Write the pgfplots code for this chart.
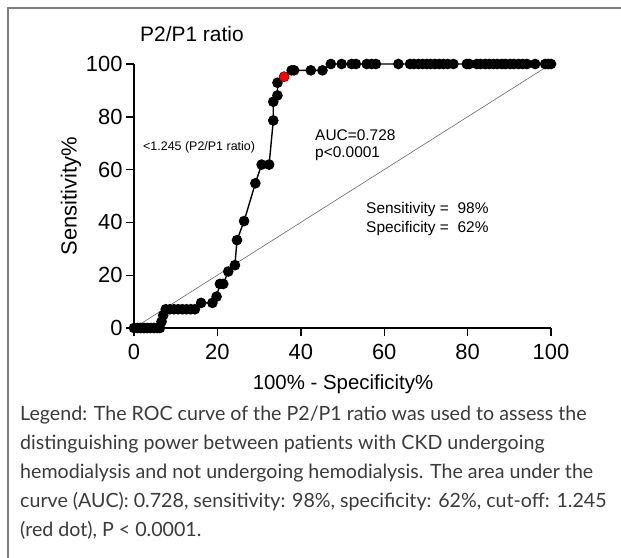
\documentclass[border=0pt]{standalone}
\usepackage{pgfplots}
\pgfplotsset{compat=1.18}
\usepackage{fontspec}
\setmainfont{Liberation Sans}
\newfontfamily\capfont{Lato}
\definecolor{captext}{HTML}{3A3A3A}
\definecolor{framegray}{HTML}{7F7F7F}

\begin{document}
\begin{tikzpicture}
% pixel grid of the reference: x to the right, y downwards
\begin{scope}[x=1bp,y=-1bp]
\path[use as bounding box] (0,0) rectangle (621,558);
\draw[framegray, line width=2bp] (8,562) -- (8,8) -- (625,8);
\node[anchor=base west, font=\fontsize{21}{24}\selectfont, inner sep=0pt] at (140,42) {P2/P1 ratio};
\node[rotate=90, font=\fontsize{22}{26}\selectfont] at (71,196) {Sensitivity\%};
\node[font=\fontsize{20.5}{24}\selectfont] at (343,384) {100\% - Specificity\%};
% annotations
\node[anchor=west, font=\fontsize{12.5}{15}\selectfont, inner sep=0pt] at (143,147) {<1.245 (P2/P1 ratio)};
\node[anchor=west, font=\fontsize{15.5}{18}\selectfont, inner sep=0pt] at (315,135) {AUC=0.728};
\node[anchor=west, font=\fontsize{15.5}{18}\selectfont, inner sep=0pt] at (315,154) {p<0.0001};
\node[anchor=west, font=\fontsize{15.5}{18}\selectfont, inner sep=0pt] at (366,210) {Sensitivity =\ \ 98\%};
\node[anchor=west, font=\fontsize{15.5}{18}\selectfont, inner sep=0pt] at (366,229) {Specificity =\ \ 62\%};
% figure legend text
\begin{scope}[every node/.style={anchor=base west, inner sep=0pt, text=captext, font=\capfont\fontsize{19.7}{24}\selectfont}]
\node at (20,420) {Legend: The ROC curve of the P2/P1 ratio was used to assess the};
\node at (20,449) {distinguishing power between patients with CKD undergoing};
\node at (20,478) {hemodialysis and not undergoing hemodialysis. The area under the};
\node at (20,507) {curve (AUC): 0.728, sensitivity: 98\%, specificity: 62\%, cut-off: 1.245};
\node at (20,536) {(red dot), P < 0.0001.};
\end{scope}
\end{scope}

\begin{axis}[
    at={(134bp,-328bp)}, anchor=south west,
    scale only axis, width=417bp, height=264bp,
    xmin=0, xmax=100, ymin=0, ymax=100,
    axis x line*=bottom, axis y line*=left,
    axis line style={line width=1.4bp, -},
    xtick={0,20,...,100}, ytick={0,20,...,100},
    tick align=outside, major tick length=8bp,
    tick style={black, line width=1.4bp},
    tick label style={font=\fontsize{22}{26}\selectfont},
    xticklabel style={yshift=-5bp},
    /pgf/number format/assume math mode=true,
    clip=false,
]
% chance line
\addplot[black!60, line width=0.6bp] coordinates {(0,0) (100,100)};
% ROC curve
\addplot[black, line width=1.4bp, mark=*, mark size=4.6bp, mark options={fill=black}] coordinates {
    (0,0) (0.8,0) (1.6,0) (2.4,0) (3.2,0) (4,0) (4.8,0) (5.6,0) (6.2,0)
    (6.6,2.4) (7.0,4.8) (7.6,7.1)
    (8.6,7.1) (9.6,7.1) (10.6,7.1) (11.6,7.1) (12.6,7.1) (13.6,7.1) (14.6,7.1)
    (16.1,9.5) (18.8,9.5) (19.8,11.9) (20.6,16.7) (21.4,16.7)
    (22.6,21.4) (24.2,23.8) (24.7,33.3) (26.4,40.5) (29.1,54.8)
    (30.6,61.9) (32.4,61.9) (33.4,78.6) (33.4,85.7) (34.4,88.1) (34.4,92.9)
    (36.0,95.2) (37.8,97.6) (38.4,97.6) (42.4,97.6) (45.2,97.6)
    (47.2,100) (49.8,100) (52.2,100) (53.2,100) (55.8,100) (57.0,100) (58.0,100)
    (63.4,100) (66.2,100) (67.1,100) (68.2,100) (69.2,100) (70.2,100) (71.1,100)
    (72.2,100) (73.2,100) (74.2,100) (75.2,100) (76.6,100) (79.8,100) (80.4,100)
    (82.2,100) (83.1,100) (84.2,100) (85.2,100) (86.2,100) (87.1,100) (88.2,100)
    (89.1,100) (90.2,100) (91.1,100) (92.2,100) (93.2,100) (94.2,100) (96.2,100)
    (98.6,100) (99.4,100) (100,100)
};
% cut-off point
\addplot[only marks, mark=*, red, mark size=4.6bp] coordinates {(36.0,95.2)};
\end{axis}
\end{tikzpicture}
\end{document}
